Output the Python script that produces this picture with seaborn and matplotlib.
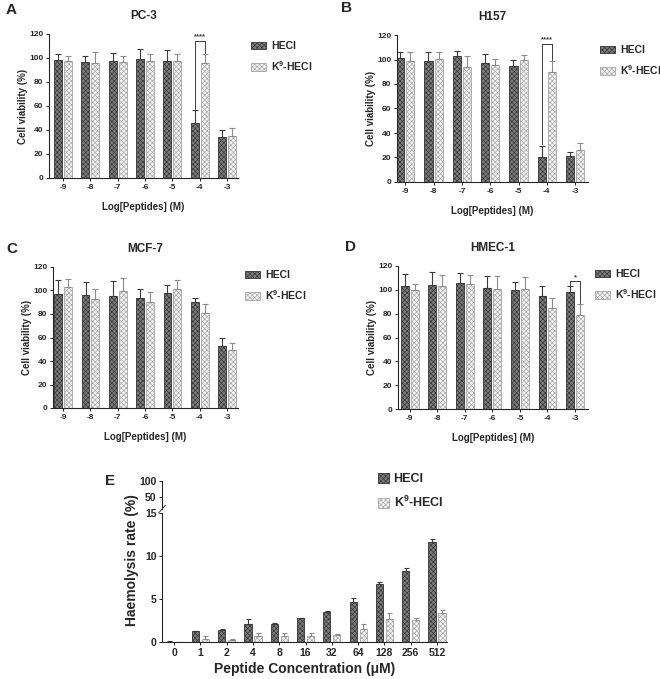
import numpy as np
import pandas as pd
import matplotlib
matplotlib.use("Agg")
import matplotlib.pyplot as plt
import seaborn as sns
from matplotlib.patches import Patch

# ------------------------------------------------------------------
# Données (viabilité cellulaire, % ; erreurs = SD haute)
# ------------------------------------------------------------------
log_doses = ["-9", "-8", "-7", "-6", "-5", "-4", "-3"]
series = ["HECI", "K$^{9}$-HECI"]

pc3_heci = [98.6, 96.9, 97.5, 99.2, 97.2, 45.8, 34.2]
pc3_heci_err = [4.7, 5.0, 6.5, 8.6, 9.5, 10.8, 5.5]
pc3_k9 = [97.8, 96.1, 97.0, 97.5, 97.5, 95.8, 35.3]
pc3_k9_err = [4.2, 8.6, 5.0, 6.0, 6.0, 7.5, 6.0]

h157_heci = [100.9, 98.7, 103.0, 97.4, 94.4, 20.5, 21.5]
h157_heci_err = [5.0, 7.6, 4.0, 6.8, 5.0, 9.2, 3.3]
h157_k9 = [99.0, 100.4, 93.5, 95.5, 99.5, 89.5, 26.5]
h157_k9_err = [6.8, 5.4, 9.5, 5.0, 3.9, 9.0, 5.0]

mcf7_heci = [96.6, 96.0, 95.5, 94.0, 97.5, 90.4, 52.8]
mcf7_heci_err = [12.0, 11.0, 13.0, 7.0, 7.5, 2.8, 6.5]
mcf7_k9 = [103.1, 92.4, 99.7, 90.4, 101.7, 80.5, 49.4]
mcf7_k9_err = [6.5, 8.7, 11.0, 8.5, 7.0, 7.6, 6.2]

hmec_heci = [103.0, 103.9, 106.1, 101.7, 99.7, 95.0, 98.0]
hmec_heci_err = [10.0, 11.0, 8.0, 10.0, 7.0, 8.3, 5.3]
hmec_k9 = [99.7, 103.3, 104.5, 101.1, 100.3, 84.4, 78.6]
hmec_k9_err = [5.6, 9.0, 8.3, 10.3, 10.8, 8.4, 9.4]

# Hémolyse (%)
conc_labels = ["0", "1", "2", "4", "8", "16", "32", "64", "128", "256", "512"]
haemo_heci = [0.05, 1.27, 1.42, 2.1, 2.1, 2.77, 3.54, 4.6, 6.8, 8.27, 11.6]
haemo_heci_err = [0.03, 0.06, 0.1, 0.55, 0.08, 0.07, 0.1, 0.5, 0.12, 0.35, 0.35]
haemo_k9 = [0.03, 0.4, 0.25, 0.7, 0.65, 0.65, 0.85, 1.55, 2.7, 2.58, 3.35]
haemo_k9_err = [0.02, 0.25, 0.1, 0.3, 0.35, 0.35, 0.12, 0.55, 0.65, 0.25, 0.35]

# ------------------------------------------------------------------
# Style
# ------------------------------------------------------------------
sns.set_theme(style="ticks")
plt.rcParams["font.family"] = ["Liberation Sans", "DejaVu Sans"]
plt.rcParams["font.weight"] = "bold"
plt.rcParams["axes.labelweight"] = "bold"
plt.rcParams["axes.titleweight"] = "bold"
plt.rcParams["mathtext.fontset"] = "custom"
plt.rcParams["mathtext.rm"] = "Liberation Sans:bold"
plt.rcParams["mathtext.it"] = "Liberation Sans:bold"
plt.rcParams["mathtext.bf"] = "Liberation Sans:bold"
plt.rcParams["hatch.linewidth"] = 0.45
plt.rcParams["axes.linewidth"] = 0.8

STYLES = [
    {"face": "#7c7c7c", "edge": "#333333", "hatch": "xxxxxxx", "err": "#3a3a3a"},
    {"face": "#f4f4f4", "edge": "#a5a5a5", "hatch": "xxxxxxx", "err": "#8c8c8c"},
]

W, H = 660, 679


def fig_rect(left, top, right, bottom):
    """Convertit un rectangle en pixels (origine en haut à gauche) en coordonnées figure."""
    return [left / W, 1 - bottom / H, (right - left) / W, (bottom - top) / H]


def draw_bars(ax, cats, heci, heci_err, k9, k9_err, width, gap, capsize=2.0):
    df = pd.DataFrame({
        "cat": cats * 2,
        "value": heci + k9,
        "peptide": [series[0]] * len(cats) + [series[1]] * len(cats),
    })
    sns.barplot(data=df, x="cat", y="value", hue="peptide", order=cats, hue_order=series,
                palette=[STYLES[0]["face"], STYLES[1]["face"]], saturation=1,
                width=width, gap=gap, errorbar=None, legend=False, linewidth=0.6, ax=ax)
    for cont, vals, errs, st in zip(ax.containers, [heci, k9], [heci_err, k9_err], STYLES):
        for bar in cont:
            bar.set_hatch(st["hatch"])
            bar.set_edgecolor(st["edge"])
        xs = [b.get_x() + b.get_width() / 2 for b in cont]
        ax.errorbar(xs, vals, yerr=[np.zeros(len(vals)), errs], fmt="none",
                    ecolor=st["err"], elinewidth=0.8, capsize=capsize, capthick=0.8, zorder=1)
    ax.set_xlabel("")
    ax.set_ylabel("")
    sns.despine(ax=ax)
    return ax.containers


def add_bracket(ax, containers, idx, left_base, right_base, top, label):
    x0 = containers[0][idx].get_x() + containers[0][idx].get_width() / 2
    x1 = containers[1][idx].get_x() + containers[1][idx].get_width() / 2
    ax.plot([x0, x0, x1, x1], [left_base, top, top, right_base], color="#3a3a3a", lw=0.7)
    ax.text((x0 + x1) / 2, top + 0.5, label, ha="center", va="bottom", fontsize=5.5, color="#3a3a3a")


def legend_handles():
    return [Patch(facecolor=st["face"], edgecolor=st["edge"], hatch=st["hatch"], linewidth=0.6)
            for st in STYLES]


fig = plt.figure(figsize=(6.6, 6.79), dpi=100)

panels = [
    # lettre, titre, données, rectangle (px), xlim, pos. lettre, pos. légende, crochet
    ("A", "PC-3", (pc3_heci, pc3_heci_err, pc3_k9, pc3_k9_err), (49, 34, 238, 178),
     (-0.51, 6.4), (6, 10), (251, 41), (5, 114, "****")),
    ("B", "H157", (h157_heci, h157_heci_err, h157_k9, h157_k9_err), (397, 35, 588, 182),
     (-0.29, 6.45), (341, 8), (600, 45), (5, 113, "****")),
    ("C", "MCF-7", (mcf7_heci, mcf7_heci_err, mcf7_k9, mcf7_k9_err), (53, 267, 238, 408),
     (-0.37, 6.4), (6, 249), (245, 270), None),
    ("D", "HMEC-1", (hmec_heci, hmec_heci_err, hmec_k9, hmec_k9_err), (398, 266, 588, 409),
     (-0.42, 6.47), (345, 247), (595, 269), (6, 107, "*")),
]

for letter, title, data, rect, xlim, letter_pos, leg_pos, bracket in panels:
    ax = fig.add_axes(fig_rect(*rect))
    heci, heci_err, k9, k9_err = data
    conts = draw_bars(ax, log_doses, heci, heci_err, k9, k9_err, width=0.72, gap=0.2)
    ax.set_ylim(0, 120)
    ax.set_xlim(*xlim)
    ax.set_yticks(range(0, 121, 20))
    ax.tick_params(labelsize=6, length=2.5, width=0.7, pad=1.5)
    ax.set_ylabel("Cell viability (%)", fontsize=7, labelpad=1)
    ax.set_xlabel("Log[Peptides] (M)", fontsize=7, labelpad=8)
    ax.set_title(title, fontsize=8.5, pad=11)
    fig.text(letter_pos[0] / W, 1 - letter_pos[1] / H, letter, fontsize=11, fontweight="bold",
             ha="left", va="center")
    if bracket is not None:
        idx, top, label = bracket
        add_bracket(ax, conts, idx, heci[idx] + heci_err[idx] + 1, k9[idx] + k9_err[idx] + 1, top, label)
    fig.legend(handles=legend_handles(), labels=["HECI", "K$^{9}$-HECI"], loc="upper left",
               bbox_to_anchor=(leg_pos[0] / W, 1 - leg_pos[1] / H), frameon=False, fontsize=7.5,
               handlelength=1.45, handleheight=0.7, handletextpad=0.45, labelspacing=0.75,
               borderpad=0, borderaxespad=0)

# ------------------------------------------------------------------
# Panneau E : axe Y interrompu (0-15 / 15-100)
# ------------------------------------------------------------------
ax_low = fig.add_axes(fig_rect(162, 513, 447, 642))
ax_up = fig.add_axes(fig_rect(162, 481, 447, 509), sharex=ax_low)

draw_bars(ax_low, conc_labels, haemo_heci, haemo_heci_err, haemo_k9, haemo_k9_err,
          width=0.76, gap=0.28, capsize=1.8)
ax_low.set_ylim(0, 15)
ax_low.set_xlim(-0.46, 10.38)
ax_low.set_yticks([0, 5, 10, 15])
ax_low.tick_params(labelsize=7.5, length=2.5, width=0.7, pad=1.5)
ax_low.set_xlabel("Peptide Concentration (\u03bcM)", fontsize=10, labelpad=3)

ax_up.set_ylim(15, 100)
ax_up.set_yticks([50, 100])
ax_up.tick_params(labelsize=7.5, length=2.5, width=0.7, pad=1.5)
ax_up.tick_params(axis="x", bottom=False, labelbottom=False)
for side in ["top", "right", "bottom"]:
    ax_up.spines[side].set_visible(False)
ax_up.patch.set_visible(False)

# marques de rupture
ax_low.plot([-0.012, 0.012], [1.0, 1.06], transform=ax_low.transAxes, color="#333333",
            lw=0.7, clip_on=False)

fig.text(132 / W, 1 - 560 / H, "Haemolysis rate (%)", rotation=90, fontsize=10,
         fontweight="bold", ha="center", va="center")
fig.text(105 / W, 1 - 481 / H, "E", fontsize=11, fontweight="bold", ha="left", va="center")
fig.legend(handles=legend_handles(), labels=["HECI", "K$^{9}$-HECI"], loc="upper left",
           bbox_to_anchor=(378 / W, 1 - 473 / H), frameon=False, fontsize=9,
           handlelength=0.85, handleheight=0.85, handletextpad=0.4, labelspacing=0.75,
           borderpad=0, borderaxespad=0)

fig.savefig("out.png", dpi=100)
